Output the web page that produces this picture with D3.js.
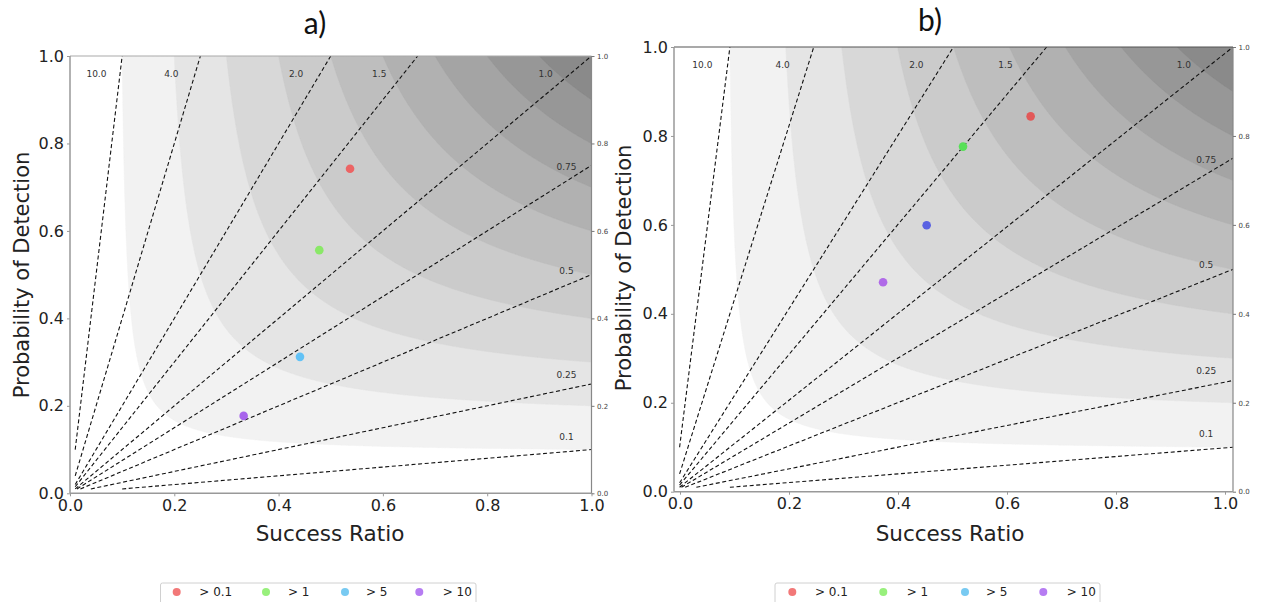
<!DOCTYPE html>
<html><head><meta charset="utf-8">
<script src="https://cdn.jsdelivr.net/npm/d3@7"></script>
<style>body{margin:0;background:#fff}svg{display:block}</style>
</head><body>
<svg id="c" width="1265" height="602"></svg>
<script>
// ---------- data ----------
const panelTitles = ["a)", "b)"];
const legendLabels = ["> 0.1", "> 1", "> 5", "> 10"];
const successRatioA = [0.537, 0.478, 0.441, 0.333];
const podA = [0.742, 0.556, 0.312, 0.177];
const successRatioB = [0.638, 0.517, 0.452, 0.374];
const podB = [0.844, 0.776, 0.599, 0.471];
const biasLevels = [10, 4, 2, 1.5, 1, 0.75, 0.5, 0.25, 0.1];
const biasLabels = ["10.0", "4.0", "2.0", "1.5", "1.0", "0.75", "0.5", "0.25", "0.1"];
const csiLevels = [0.1, 0.2, 0.3, 0.4, 0.5, 0.6, 0.7, 0.8, 0.9];
const axisTicks = [0, 0.2, 0.4, 0.6, 0.8, 1.0];

// ---------- styles / layout ----------
const dotColorsA = ["#ec6464", "#8ae868", "#62c2f6", "#a864ec"];
const dotColorsB = ["#e25858", "#58e058", "#5a62e2", "#b06ae8"];
const legendColors = ["#f27878", "#98f07c", "#78caf2", "#b67cf2"];
const FONT = "DejaVu Sans, Verdana, sans-serif";

const panels = [
  {x0: 70, x1: 591.5, top: 56, bottom: 493.3, tx0: 70, tx1: 591.5,
   sr: successRatioA, pod: podA, colors: dotColorsA,
   title: {x: 315, y: 34}, xlab: {x: 330, y: 541}, ylab: {x: 29, y: 275},
   topSpine: "#aaaaaa",
   legend: {x: 160.5, w: 315.5, dots: [176.7, 266, 345, 419.3], texts: [199.3, 288, 366, 442.7]}},
  {x0: 674, x1: 1233, top: 47, bottom: 491.7, tx0: 680, tx1: 1225,
   sr: successRatioB, pod: podB, colors: dotColorsB,
   title: {x: 930, y: 31}, xlab: {x: 950, y: 541}, ylab: {x: 631, y: 268},
   topSpine: "#555555",
   legend: {x: 775, w: 325, dots: [792.3, 883.3, 965, 1043.3], texts: [815, 906.7, 986, 1066.7]}}
];

const svg = d3.select("#c");
const defs = svg.append("defs");

// CSI grid (critical success index surface)
const N = 420;
const grid = new Float64Array(N * N);
for (let j = 0; j < N; j++) {
  const pod = (j + 0.5) / N;
  for (let i = 0; i < N; i++) {
    const sr = (i + 0.5) / N;
    grid[j * N + i] = 1 / (1 / sr + 1 / pod - 1);
  }
}
const bands = d3.contours().size([N, N]).thresholds(csiLevels)(grid);
const shade = d => { const v = Math.round(255 - 13 * (csiLevels.indexOf(d) + 1)); return `rgb(${v},${v},${v})`; };

panels.forEach((p, pi) => {
  const xs = d3.scaleLinear().domain([0, 1]).range([p.x0, p.x1]);
  const xt = d3.scaleLinear().domain([0, 1]).range([p.tx0, p.tx1]);
  const ys = d3.scaleLinear().domain([0, 1]).range([p.bottom, p.top]);
  const g = svg.append("g");
  const clipId = "clip" + pi;
  defs.append("clipPath").attr("id", clipId).append("rect")
    .attr("x", p.x0).attr("y", p.top).attr("width", p.x1 - p.x0).attr("height", p.bottom - p.top);

  const plot = g.append("g").attr("clip-path", `url(#${clipId})`);
  plot.append("rect").attr("x", p.x0).attr("y", p.top).attr("width", p.x1 - p.x0)
    .attr("height", p.bottom - p.top).attr("fill", "#ffffff");

  const proj = d3.geoTransform({point(x, y) { this.stream.point(xs(x / N), ys(y / N)); }});
  const path = d3.geoPath(proj);
  plot.selectAll("path.band").data(bands).join("path").attr("class", "band")
    .attr("d", path).attr("fill", d => shade(d.value)).attr("stroke", d => shade(d.value)).attr("stroke-width", 0.5);

  // bias lines
  biasLevels.forEach((b, k) => {
    const start = b >= 1 ? [0.01, 0.01 * b] : [0.01 / b, 0.01];
    const end = b >= 1 ? [1 / b, 1] : [1, b];
    plot.append("line").attr("x1", xs(start[0])).attr("y1", ys(start[1]))
      .attr("x2", xs(end[0])).attr("y2", ys(end[1]))
      .attr("stroke", "#111").attr("stroke-width", 1.1).attr("stroke-dasharray", "4,2.6");
    let lx, ly;
    if (b >= 1) { lx = 0.957 / b - 0.045; ly = 0.959; }
    else { lx = 0.952; ly = 0.95 * b + 0.034; }
    g.append("text").attr("x", xs(lx)).attr("y", ys(ly)).attr("dy", "0.35em")
      .attr("text-anchor", "middle").attr("font-family", FONT).attr("font-size", 9)
      .attr("fill", "#333").text(biasLabels[k]);
  });

  // points
  g.selectAll("circle.pt").data(p.sr).join("circle").attr("class", "pt")
    .attr("cx", d => xs(d)).attr("cy", (d, i) => ys(p.pod[i])).attr("r", 4.3)
    .attr("fill", (d, i) => p.colors[i]);

  // spines
  g.append("line").attr("x1", p.x0).attr("x2", p.x1).attr("y1", p.top).attr("y2", p.top)
    .attr("stroke", p.topSpine).attr("stroke-width", 1.2);
  g.append("line").attr("x1", p.x1).attr("x2", p.x1).attr("y1", p.top).attr("y2", p.bottom)
    .attr("stroke", "#888").attr("stroke-width", 1.2);
  g.append("line").attr("x1", p.x0).attr("x2", p.x0).attr("y1", p.top).attr("y2", p.bottom)
    .attr("stroke", "#999").attr("stroke-width", 1.5);
  g.append("line").attr("x1", p.x0).attr("x2", p.x1).attr("y1", p.bottom).attr("y2", p.bottom)
    .attr("stroke", "#999").attr("stroke-width", 1.5);

  // axes
  const fmt = d3.format(".1f");
  const left = g.append("g").attr("transform", `translate(${p.x0},0)`)
    .call(d3.axisLeft(ys).tickValues(axisTicks).tickFormat(fmt).tickSize(3).tickPadding(3));
  const bottom = g.append("g").attr("transform", `translate(0,${p.bottom})`)
    .call(d3.axisBottom(xt).tickValues(axisTicks).tickFormat(fmt).tickSize(3).tickPadding(3));
  [left, bottom].forEach(a => {
    a.select(".domain").remove();
    a.selectAll("line").attr("stroke", "#999");
    a.selectAll("text").attr("font-family", FONT).attr("font-size", 16).attr("fill", "#222");
  });
  const right = g.append("g").attr("transform", `translate(${p.x1},0)`)
    .call(d3.axisRight(ys).tickValues(axisTicks).tickFormat(fmt).tickSize(3).tickPadding(2.5));
  right.select(".domain").remove();
  right.selectAll("line").attr("stroke", "#777");
  right.selectAll("text").attr("font-family", FONT).attr("font-size", 7).attr("fill", "#444");

  // labels
  g.append("text").attr("x", p.title.x).attr("y", p.title.y).attr("text-anchor", "middle")
    .attr("font-family", "Lato, Open Sans, sans-serif").attr("font-size", 30).attr("fill", "#111")
    .text(panelTitles[pi]);
  g.append("text").attr("x", p.xlab.x).attr("y", p.xlab.y).attr("text-anchor", "middle")
    .attr("font-family", FONT).attr("font-size", 21.5).attr("fill", "#222").text("Success Ratio");
  g.append("text").attr("transform", `translate(${p.ylab.x},${p.ylab.y}) rotate(-90)`)
    .attr("text-anchor", "middle").attr("font-family", FONT).attr("font-size", 21)
    .attr("fill", "#222").text("Probability of Detection");

  // legend
  const L = g.append("g");
  L.append("rect").attr("x", p.legend.x).attr("y", 583).attr("width", p.legend.w).attr("height", 30)
    .attr("rx", 2).attr("fill", "#fff").attr("stroke", "#d0d0d0").attr("stroke-width", 1);
  legendLabels.forEach((lab, i) => {
    L.append("circle").attr("cx", p.legend.dots[i]).attr("cy", 592).attr("r", 4).attr("fill", legendColors[i]);
    L.append("text").attr("x", p.legend.texts[i]).attr("y", 592).attr("dy", "0.35em")
      .attr("font-family", FONT).attr("font-size", 12).attr("fill", "#222").text(lab);
  });
});
</script>
</body></html>
